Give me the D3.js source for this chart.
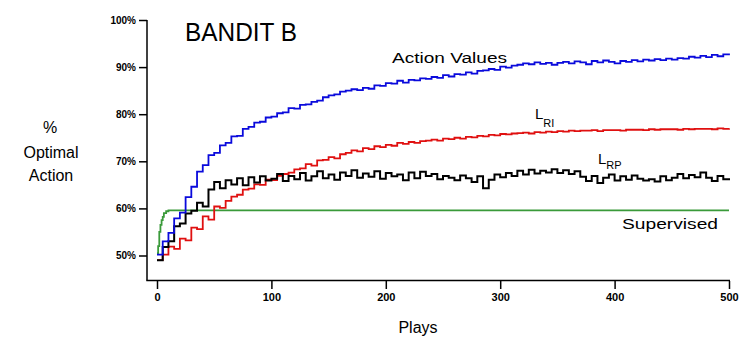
<!DOCTYPE html>
<html>
<head>
<meta charset="utf-8">
<script src="https://cdn.jsdelivr.net/npm/d3@7"></script>
<style>
  body { margin: 0; background: #fff; }
  svg { display: block; font-family: "Liberation Sans", Arial, sans-serif; }
</style>
</head>
<body>
<svg class="bandit" width="740" height="338"></svg>
<script>
// plays sampled every 5
let plays = d3.range(0, 501, 5);

let actionValues = [
  50.2, 53.0, 54.8, 57.9, 59.1, 62.4, 64.6, 67.8, 69.2, 71.3,
  71.8, 73.4, 73.9, 75.3, 75.4, 76.9, 77.3, 78.2, 78.4, 79.3,
  79.5, 80.2, 80.4, 81.3, 81.2, 82.0, 82.1, 82.6, 82.9, 83.6,
  84.0, 84.2, 84.8, 85.0, 85.3, 85.1, 85.6, 85.4, 86.1, 86.0,
  86.6, 86.5, 87.1, 86.7, 87.3, 87.2, 87.6, 87.5, 87.9, 87.7,
  88.3, 88.0, 88.5, 88.4, 88.9, 88.6, 89.2, 89.3, 89.6, 89.4,
  90.1, 89.9, 90.3, 90.5, 90.8, 90.6, 91.0, 90.7, 90.9, 90.5,
  90.9, 91.1, 90.8, 91.2, 91.0, 90.6, 91.3, 91.0, 91.4, 91.1,
  90.8, 91.3, 91.1, 91.5, 91.2, 91.6, 91.4, 91.7, 91.5, 91.8,
  91.6, 91.9, 91.8, 92.2, 92.0, 92.4, 92.1, 92.6, 92.3, 92.7,
  92.5
];

let lri = [
  49.0, 50.2, 51.9, 51.4, 53.6, 53.2, 55.9, 55.6, 58.3, 57.6,
  60.4, 60.1, 61.6, 62.5, 62.9, 64.0, 64.2, 65.1, 65.0, 66.1,
  66.0, 66.9, 67.3, 67.6, 68.3, 68.5, 69.4, 69.1, 70.2, 70.3,
  70.9, 70.6, 71.5, 71.8, 72.3, 72.1, 72.8, 72.6, 73.2, 73.0,
  73.5, 73.3, 73.9, 73.7, 74.1, 73.9, 74.3, 74.4, 74.6, 74.4,
  74.8, 74.7, 75.0, 74.8, 75.2, 75.1, 75.4, 75.3, 75.6, 75.5,
  75.8, 75.7, 75.9, 76.0, 76.1, 75.9, 76.2, 76.1, 76.3, 76.2,
  76.4, 76.3, 76.5, 76.4, 76.5, 76.5, 76.6, 76.4, 76.6, 76.6,
  76.6, 76.5, 76.7, 76.7, 76.7, 76.6, 76.8, 76.7, 76.8, 76.8,
  76.8, 76.7, 76.9, 76.8, 76.9, 76.9, 76.9, 76.8, 77.0, 76.9,
  77.0
];

let lrp = [
  49.0, 51.8, 53.0, 56.2, 56.8, 58.9, 59.5, 61.2, 60.4, 64.0,
  65.6, 64.3, 66.0, 65.1, 66.4, 64.9, 66.6, 65.5, 66.8, 65.9,
  66.3, 67.3, 65.8, 66.9, 66.2, 67.5, 65.9, 66.8, 67.9, 66.4,
  67.2, 66.1, 67.6, 66.9, 68.1, 66.5, 67.4, 66.7, 67.9, 66.3,
  67.5, 66.8, 67.2, 66.0, 67.6, 66.4, 67.8, 66.9, 67.3, 66.2,
  66.9, 66.5, 66.0, 67.0, 66.4, 65.6, 66.8, 64.3, 66.1, 67.2,
  66.6, 67.5, 66.9, 68.0, 67.2, 68.2, 67.4, 68.0, 67.6, 68.3,
  67.5, 68.1, 67.3, 67.9, 66.7, 65.8, 66.9, 65.4, 66.5, 67.2,
  65.9, 66.8, 66.1, 67.0, 66.3, 65.9, 66.2, 65.7, 66.8, 66.0,
  66.5, 67.3, 66.4, 67.1, 66.6, 67.6, 66.5, 65.8, 66.9, 66.2,
  66.0
];

let supervisedPlays = [0, 1, 2, 3, 4, 5, 6, 8, 10, 500];
let supervised = [50.5, 52.0, 55.0, 56.5, 57.5, 58.2, 59.0, 59.4, 59.6, 59.6];

let xTicks = [0, 100, 200, 300, 400, 500];
let yTicks = [50, 60, 70, 80, 90, 100];

let svg = d3.select(".bandit");

let x = d3.scaleLinear().domain([0, 500]).range([157, 729]);
let y = d3.scaleLinear().domain([50, 100]).range([255.5, 20]);

// axes
svg.append("line")
  .attr("x1", 147).attr("x2", 147)
  .attr("y1", 20).attr("y2", 280.5)
  .attr("stroke", "#000").attr("stroke-width", 1.5);

svg.append("line")
  .attr("x1", 146.3).attr("x2", 730)
  .attr("y1", 280.5).attr("y2", 280.5)
  .attr("stroke", "#000").attr("stroke-width", 1.5);

let xAxis = g => g
  .attr("transform", "translate(0,281)")
  .call(d3.axisBottom(x).tickValues(xTicks).tickSize(8).tickPadding(4))
  .call(g => g.select(".domain").remove())
  .call(g => g.selectAll(".tick line").attr("stroke-width", 1.5))
  .call(g => g.selectAll(".tick text")
    .attr("font-size", 11).attr("font-weight", "bold")
    .attr("font-family", "Liberation Sans, Arial, sans-serif"));

let yAxis = g => g
  .attr("transform", "translate(147,0)")
  .call(d3.axisLeft(y).tickValues(yTicks).tickSize(8).tickPadding(3).tickFormat(d => d + "%"))
  .call(g => g.select(".domain").remove())
  .call(g => g.selectAll(".tick line").attr("stroke-width", 1.5))
  .call(g => g.selectAll(".tick text")
    .attr("font-size", 10).attr("font-weight", "bold")
    .attr("font-family", "Liberation Sans, Arial, sans-serif"));

svg.append("g").call(xAxis);
svg.append("g").call(yAxis);

// series
let line = d3.line()
  .curve(d3.curveStepAfter)
  .x(d => x(d[0]))
  .y(d => y(d[1]));

let series = [
  { values: supervised, xs: supervisedPlays, color: "#3a9a3a", width: 1.8 },
  { values: lri, xs: plays, color: "#e01010", width: 1.8 },
  { values: lrp, xs: plays, color: "#000", width: 2 },
  { values: actionValues, xs: plays, color: "#0a0adc", width: 1.8 }
];

svg.append("g")
  .selectAll("path")
  .data(series)
  .join("path")
  .attr("fill", "none")
  .attr("stroke", d => d.color)
  .attr("stroke-width", d => d.width)
  .attr("d", d => line(d.values.map((v, i) => [d.xs[i], v])));

// labels
svg.append("text")
  .attr("x", 185).attr("y", 41)
  .attr("font-size", 25)
  .attr("textLength", 112).attr("lengthAdjust", "spacingAndGlyphs")
  .text("BANDIT B");

svg.append("text")
  .attr("x", 392).attr("y", 63)
  .attr("font-size", 14)
  .attr("textLength", 115).attr("lengthAdjust", "spacingAndGlyphs")
  .text("Action Values");

let lriLabel = svg.append("text").attr("x", 535).attr("y", 119).attr("font-size", 15);
lriLabel.append("tspan").text("L");
lriLabel.append("tspan").attr("dy", 8).attr("font-size", 11).text("RI");

let lrpLabel = svg.append("text").attr("x", 598).attr("y", 164).attr("font-size", 15);
lrpLabel.append("tspan").text("L");
lrpLabel.append("tspan").attr("dy", 5).attr("font-size", 11).text("RP");

svg.append("text")
  .attr("x", 622).attr("y", 229)
  .attr("font-size", 14)
  .attr("textLength", 96).attr("lengthAdjust", "spacingAndGlyphs")
  .text("Supervised");

let yTitle = svg.append("text")
  .attr("text-anchor", "middle")
  .attr("font-size", 16);
yTitle.append("tspan").attr("x", 50).attr("y", 133).text("%");
yTitle.append("tspan").attr("x", 51).attr("y", 158).text("Optimal");
yTitle.append("tspan").attr("x", 51).attr("y", 181).text("Action");

svg.append("text")
  .attr("x", 418).attr("y", 333)
  .attr("text-anchor", "middle")
  .attr("font-size", 16)
  .text("Plays");
</script>
</body>
</html>
